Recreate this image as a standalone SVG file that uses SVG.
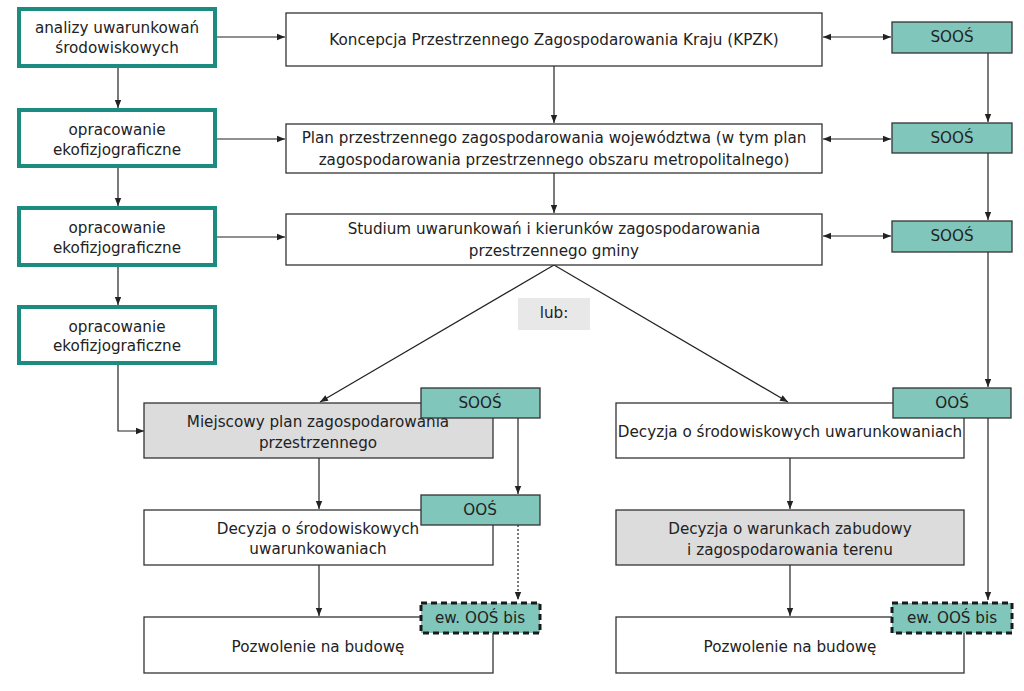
<svg xmlns="http://www.w3.org/2000/svg" width="1024" height="691" viewBox="0 0 1024 691">
<defs>
<marker id="ah" viewBox="0 0 10 10" refX="10" refY="5" markerWidth="9" markerHeight="8" markerUnits="userSpaceOnUse" orient="auto-start-reverse">
<path d="M0,1 L10,5 L0,9 z" fill="#222"/>
</marker>
<style>
text{font-family:"DejaVu Sans","Liberation Sans",sans-serif;font-size:15.2px;fill:#222;text-anchor:middle;dominant-baseline:central}
.teal{fill:#fff;stroke:#1c8c80;stroke-width:4}
.box{fill:#fff;stroke:#333;stroke-width:1.3}
.gray{fill:#dcdcdc;stroke:#333;stroke-width:1.3}
.soos{fill:#80c6bb;stroke:#333;stroke-width:1.3}
.bis{fill:#80c6bb;stroke:#1a1a1a;stroke-width:3;stroke-dasharray:6 4}
.lub{fill:#e8e8e8}
.c{fill:none;stroke:#222;stroke-width:1.2}
.a{marker-end:url(#ah)}
.d{marker-start:url(#ah);marker-end:url(#ah)}
.dot{stroke-dasharray:2 2}
</style>
</defs>
<rect width="1024" height="691" fill="#fff"/>
<g id="connectors">
<line class="c a" x1="216" y1="37" x2="285" y2="37"/>
<line class="c a" x1="216" y1="139" x2="285" y2="139"/>
<line class="c a" x1="216" y1="237" x2="285" y2="237"/>
<line class="c a" x1="118" y1="68" x2="118" y2="108"/>
<line class="c a" x1="118" y1="168" x2="118" y2="206"/>
<line class="c a" x1="118" y1="267" x2="118" y2="305"/>
<polyline class="c a" points="118,365 118,431 144,431"/>
<line class="c d" x1="823" y1="37" x2="891" y2="37"/>
<line class="c d" x1="823" y1="139" x2="891" y2="139"/>
<line class="c d" x1="823" y1="236" x2="891" y2="236"/>
<line class="c a" x1="554" y1="66" x2="554" y2="123"/>
<line class="c a" x1="554" y1="173" x2="554" y2="213"/>
<line class="c a" x1="988" y1="53" x2="988" y2="122"/>
<line class="c a" x1="988" y1="153" x2="988" y2="220"/>
<line class="c a" x1="988" y1="252" x2="988" y2="387"/>
<line class="c a" x1="554" y1="265" x2="320" y2="402"/>
<line class="c a" x1="554" y1="265" x2="788" y2="402"/>
<line class="c a" x1="319" y1="458" x2="319" y2="509"/>
<line class="c a" x1="319" y1="565" x2="319" y2="616"/>
<line class="c a" x1="518" y1="418" x2="518" y2="494"/>
<line class="c a dot" x1="518" y1="525" x2="518" y2="600"/>
<line class="c a" x1="790" y1="458" x2="790" y2="509"/>
<line class="c a" x1="790" y1="565" x2="790" y2="616"/>
<line class="c a" x1="988" y1="418" x2="988" y2="600"/>
</g>
<g id="n-analizy"><rect class="teal" x="19" y="9" width="196" height="57"/><text x="117" y="28">analizy uwarunkowań</text><text x="117" y="48">środowiskowych</text></g>
<g id="n-eko1"><rect class="teal" x="19" y="110" width="196" height="56"/><text x="117" y="130">opracowanie</text><text x="117" y="150">ekofizjograficzne</text></g>
<g id="n-eko2"><rect class="teal" x="19" y="208" width="196" height="57"/><text x="117" y="228">opracowanie</text><text x="117" y="248">ekofizjograficzne</text></g>
<g id="n-eko3"><rect class="teal" x="19" y="307" width="196" height="56"/><text x="117" y="327">opracowanie</text><text x="117" y="346">ekofizjograficzne</text></g>
<g id="n-kpzk"><rect class="box" x="286" y="13" width="536" height="53"/><text x="554" y="40">Koncepcja Przestrzennego Zagospodarowania Kraju (KPZK)</text></g>
<g id="n-plan"><rect class="box" x="286" y="124" width="536" height="49"/><text x="554" y="138">Plan przestrzennego zagospodarowania województwa (w tym plan</text><text x="554" y="160">zagospodarowania przestrzennego obszaru metropolitalnego)</text></g>
<g id="n-studium"><rect class="box" x="286" y="214" width="536" height="51"/><text x="554" y="229">Studium uwarunkowań i kierunków zagospodarowania</text><text x="554" y="251">przestrzennego gminy</text></g>
<g id="n-soos1"><rect class="soos" x="892" y="22" width="120" height="31"/><text x="952" y="37">SOOŚ</text></g>
<g id="n-soos2"><rect class="soos" x="892" y="123" width="120" height="30"/><text x="952" y="138">SOOŚ</text></g>
<g id="n-soos3"><rect class="soos" x="892" y="221" width="120" height="31"/><text x="952" y="236">SOOŚ</text></g>
<g id="n-lub"><rect class="lub" x="518" y="298" width="72" height="32"/><text x="554" y="313">lub:</text></g>
<g id="n-mpzp"><rect class="gray" x="144" y="403" width="349" height="55"/><text x="318" y="422">Miejscowy plan zagospodarowania</text><text x="318" y="443">przestrzennego</text></g>
<g id="n-soos4"><rect class="soos" x="421" y="388" width="119" height="30"/><text x="480" y="403">SOOŚ</text></g>
<g id="n-dec1"><rect class="box" x="144" y="510" width="349" height="55"/><text x="318" y="529">Decyzja o środowiskowych</text><text x="318" y="549">uwarunkowaniach</text></g>
<g id="n-oos1"><rect class="soos" x="421" y="495" width="119" height="30"/><text x="480" y="510">OOŚ</text></g>
<g id="n-poz1"><rect class="box" x="144" y="617" width="349" height="56"/><text x="318" y="647">Pozwolenie na budowę</text></g>
<g id="n-bis1"><rect class="bis" x="421" y="603" width="119" height="30"/><text x="480" y="618">ew. OOŚ bis</text></g>
<g id="n-dec2"><rect class="box" x="616" y="403" width="348" height="55"/><text x="790" y="432">Decyzja o środowiskowych uwarunkowaniach</text></g>
<g id="n-oos2"><rect class="soos" x="893" y="388" width="118" height="30"/><text x="952" y="403">OOŚ</text></g>
<g id="n-wz"><rect class="gray" x="616" y="510" width="348" height="55"/><text x="790" y="529">Decyzja o warunkach zabudowy</text><text x="790" y="550">i zagospodarowania terenu</text></g>
<g id="n-poz2"><rect class="box" x="616" y="617" width="348" height="56"/><text x="790" y="647">Pozwolenie na budowę</text></g>
<g id="n-bis2"><rect class="bis" x="892" y="603" width="120" height="30"/><text x="952" y="618">ew. OOŚ bis</text></g>
</svg>
